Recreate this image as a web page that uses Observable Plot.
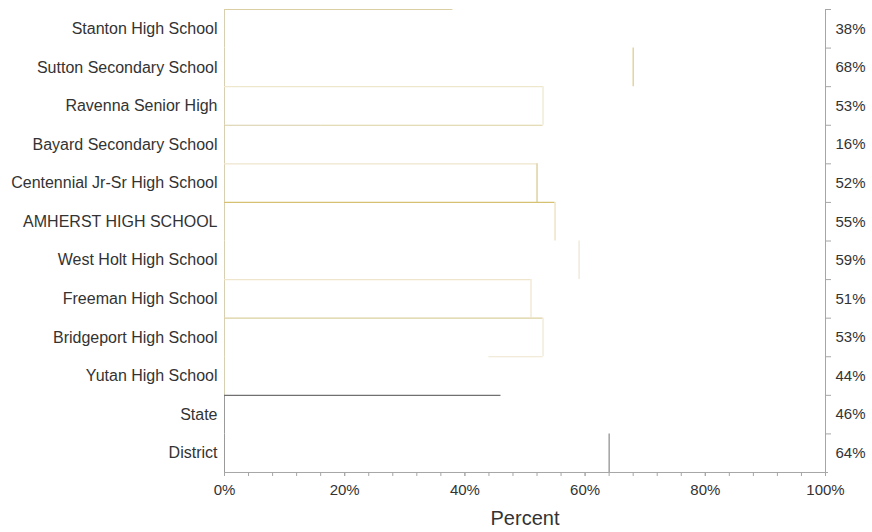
<!DOCTYPE html>
<html>
<head>
<meta charset="utf-8">
<script src="https://cdn.jsdelivr.net/npm/d3@7"></script>
<script src="https://cdn.jsdelivr.net/npm/@observablehq/plot@0.6"></script>
<style>
  html, body { margin: 0; padding: 0; background: #fff; }
  #chart svg { display: block; font-family: "Liberation Sans", Arial, sans-serif; }
</style>
</head>
<body>
<div id="chart"></div>
<script>
// ---- data ----
const names = [
  "Stanton High School",
  "Sutton Secondary School",
  "Ravenna Senior High",
  "Bayard Secondary School",
  "Centennial Jr-Sr High School",
  "AMHERST HIGH SCHOOL",
  "West Holt High School",
  "Freeman High School",
  "Bridgeport High School",
  "Yutan High School",
  "State",
  "District"
];
const values = [38, 68, 53, 16, 52, 55, 59, 51, 53, 44, 46, 64];
const majorTicks = [0, 20, 40, 60, 80, 100];

// ---- edge styling (visible outline pieces of each bar) ----
const topColor = {
  "Stanton High School": "#d9cfa3",
  "Ravenna Senior High": "#eee6cd",
  "Bayard Secondary School": "#d8cea6",
  "Centennial Jr-Sr High School": "#eee5cc",
  "AMHERST HIGH SCHOOL": "#d5c171",
  "Freeman High School": "#eee5cc",
  "Bridgeport High School": "#dbcf9f",
  "State": "#707070"
};
const rightColor = {
  "Sutton Secondary School": "#ddc886",
  "Ravenna Senior High": "#eee6cd",
  "Centennial Jr-Sr High School": "#d8c68e",
  "AMHERST HIGH SCHOOL": "#eadeb6",
  "West Holt High School": "#eee3d2",
  "Freeman High School": "#eee5d0",
  "Bridgeport High School": "#efe7d2",
  "District": "#8a8a8a"
};
const bottomColor = {
  "Ravenna Senior High": "#dbcf9f",
  "Bridgeport High School": "#eee4cc"
};

const data = names.map((name, i) => ({
  name,
  value: values[i],
  next: i + 1 < values.length ? values[i + 1] : 0
}));

const width = 872, height = 532;
const marginTop = 9, marginBottom = 60, marginLeft = 224, marginRight = 47;
const bw = (height - marginTop - marginBottom) / names.length;
const ink = "#333";
const axisGray = "#a6a6a6";

const chart = Plot.plot({
  width, height, marginTop, marginBottom, marginLeft, marginRight,
  style: { fontSize: "16px", color: ink, background: "#fff" },
  x: { domain: [0, 100] },
  y: { type: "band", domain: names, padding: 0, round: false },
  marks: [
    // white bars (invisible fill)
    Plot.barX(data, { y: "name", x: "value", fill: "white" }),
    // left edges of bars (acts as left axis line)
    Plot.tickX(data, {
      x: 0, y: "name",
      stroke: d => (d.name === "State" || d.name === "District") ? "#9a9a9a" : "#d6cfb2"
    }),
    // top edges
    Plot.ruleY(data.filter(d => topColor[d.name]), {
      y: "name", x1: 0, x2: "value", dy: -bw / 2,
      stroke: d => topColor[d.name], strokeWidth: 1.2
    }),
    // bottom edges beyond the next bar
    Plot.ruleY(data.filter(d => bottomColor[d.name] && d.value > d.next), {
      y: "name", x1: "next", x2: "value", dy: bw / 2,
      stroke: d => bottomColor[d.name], strokeWidth: 1.2
    }),
    // right edges
    Plot.tickX(data.filter(d => rightColor[d.name]), {
      x: "value", y: "name",
      stroke: d => rightColor[d.name], strokeWidth: 1.2
    }),
    // right axis line
    Plot.ruleX([100], { stroke: axisGray }),
    // right axis ticks at band boundaries
    Plot.ruleY(names, {
      y: d => d, x1: 100, x2: 101, dy: -bw / 2, stroke: axisGray
    }),
    // value labels on the right
    Plot.text(data, {
      x: 100, y: "name", text: d => d.value + "%",
      dx: 10, textAnchor: "start", fill: ink, fontSize: 15
    }),
    // bottom axis line
    Plot.ruleY([names[names.length - 1]], {
      x1: 0, x2: 100.5, dy: bw / 2, stroke: axisGray
    }),
    // left category labels
    Plot.axisY({ tickSize: 0, tickPadding: 7, label: null, fontSize: 16, fill: ink }),
    // minor ticks
    Plot.axisX({
      ticks: d3.range(0, 101, 4), tickFormat: () => "", tickSize: 4,
      stroke: axisGray, label: null
    }),
    // major labels
    Plot.axisX({
      ticks: majorTicks, tickFormat: d => d + "%", tickSize: 4, tickPadding: 8,
      stroke: axisGray, fill: ink, fontSize: 15, label: null
    }),
    Plot.text(["Percent"], {
      frameAnchor: "bottom", dy: 52, text: d => d, fontSize: 20, fill: ink
    })
  ]
});

document.getElementById("chart").appendChild(chart);
</script>
</body>
</html>
